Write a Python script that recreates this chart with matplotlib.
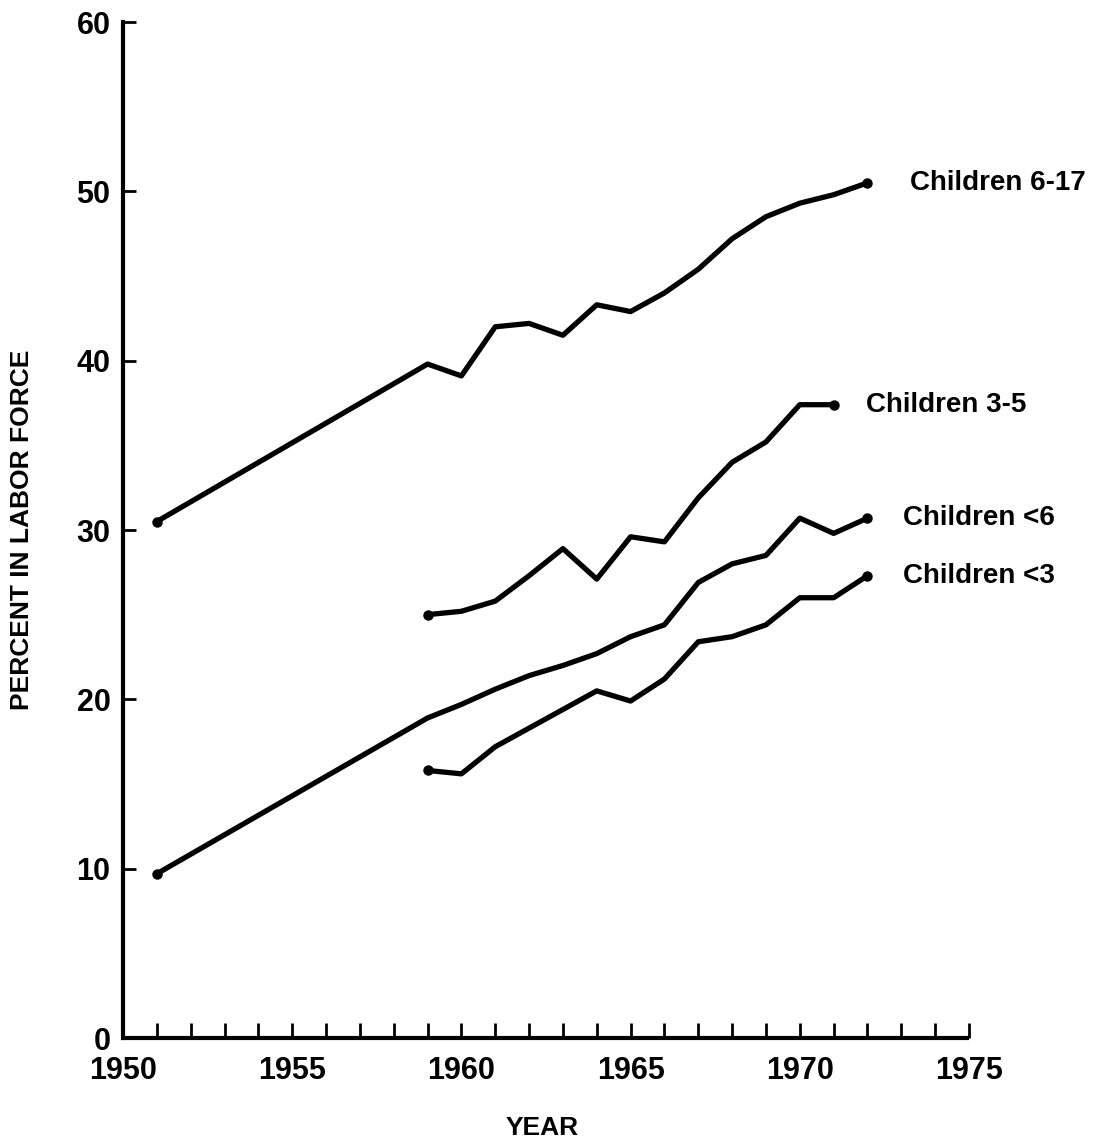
import matplotlib
matplotlib.use("Agg")
import matplotlib.pyplot as plt
from matplotlib.ticker import MultipleLocator

plt.rcParams['font.family'] = ['Liberation Sans', 'DejaVu Sans']

# Data (percent of married women in labor force, by age of children)
years_6_17 = [1951, 1959, 1960, 1961, 1962, 1963, 1964, 1965, 1966, 1967, 1968, 1969, 1970, 1971, 1972]
vals_6_17 = [30.5, 39.8, 39.1, 42.0, 42.2, 41.5, 43.3, 42.9, 44.0, 45.4, 47.2, 48.5, 49.3, 49.8, 50.5]

years_3_5 = [1959, 1960, 1961, 1962, 1963, 1964, 1965, 1966, 1967, 1968, 1969, 1970, 1971]
vals_3_5 = [25.0, 25.2, 25.8, 27.3, 28.9, 27.1, 29.6, 29.3, 31.9, 34.0, 35.2, 37.4, 37.4]

years_lt6 = [1951, 1959, 1960, 1961, 1962, 1963, 1964, 1965, 1966, 1967, 1968, 1969, 1970, 1971, 1972]
vals_lt6 = [9.7, 18.9, 19.7, 20.6, 21.4, 22.0, 22.7, 23.7, 24.4, 26.9, 28.0, 28.5, 30.7, 29.8, 30.7]

years_lt3 = [1959, 1960, 1961, 1962, 1963, 1964, 1965, 1966, 1967, 1968, 1969, 1970, 1971, 1972]
vals_lt3 = [15.8, 15.6, 17.2, 18.3, 19.4, 20.5, 19.9, 21.2, 23.4, 23.7, 24.4, 26.0, 26.0, 27.3]

series = [
    (years_6_17, vals_6_17, "Children 6-17"),
    (years_3_5, vals_3_5, "Children 3-5"),
    (years_lt6, vals_lt6, "Children <6"),
    (years_lt3, vals_lt3, "Children <3"),
]

x_ticks = [1950, 1955, 1960, 1965, 1970, 1975]
y_ticks = [0, 10, 20, 30, 40, 50, 60]

W, H = 1101, 1146
fig = plt.figure(figsize=(W / 100, H / 100), dpi=100)
ax = fig.add_axes([123 / W, (H - 1038) / H, (969 - 123) / W, (1038 - 22) / H])

for xs, ys, lab in series:
    ax.plot(xs, ys, color='black', lw=3.8, solid_capstyle='round', solid_joinstyle='round')
    ax.plot([xs[0], xs[-1]], [ys[0], ys[-1]], 'o', color='black', ms=6.5)

label_offsets = {"Children 6-17": (1.25, 0.0), "Children 3-5": (0.95, 0.0),
                 "Children <6": (1.05, 0.0), "Children <3": (1.05, 0.0)}
for xs, ys, lab in series:
    dx, dy = label_offsets[lab]
    ax.text(xs[-1] + dx, ys[-1] + dy, lab, fontsize=20, fontweight='bold',
            va='center', ha='left', clip_on=False)

ax.set_xlim(1950, 1975)
ax.set_ylim(0, 60)
ax.spines['top'].set_visible(False)
ax.spines['right'].set_visible(False)
for s in ('left', 'bottom'):
    ax.spines[s].set_linewidth(3.0)
ax.spines['bottom'].set_capstyle('butt')

ax.set_xticks(x_ticks)
ax.xaxis.set_minor_locator(MultipleLocator(1))
ax.set_yticks(y_ticks)
ax.tick_params(axis='x', which='both', direction='in', length=11, width=2.0, pad=13, labelsize=22)
ax.tick_params(axis='y', which='both', direction='in', length=9, width=2.0, pad=9, labelsize=22)
for lbl in ax.get_xticklabels() + ax.get_yticklabels():
    lbl.set_fontweight('bold')

fig.text(22 / W, 1 - 530 / H, "PERCENT IN LABOR FORCE", rotation=90, fontsize=19,
         fontweight='bold', ha='center', va='center')
fig.text(542 / W, 1 - 1128 / H, "YEAR", fontsize=19, fontweight='bold', ha='center', va='center')

fig.savefig("out.png", dpi=100, facecolor='white')
